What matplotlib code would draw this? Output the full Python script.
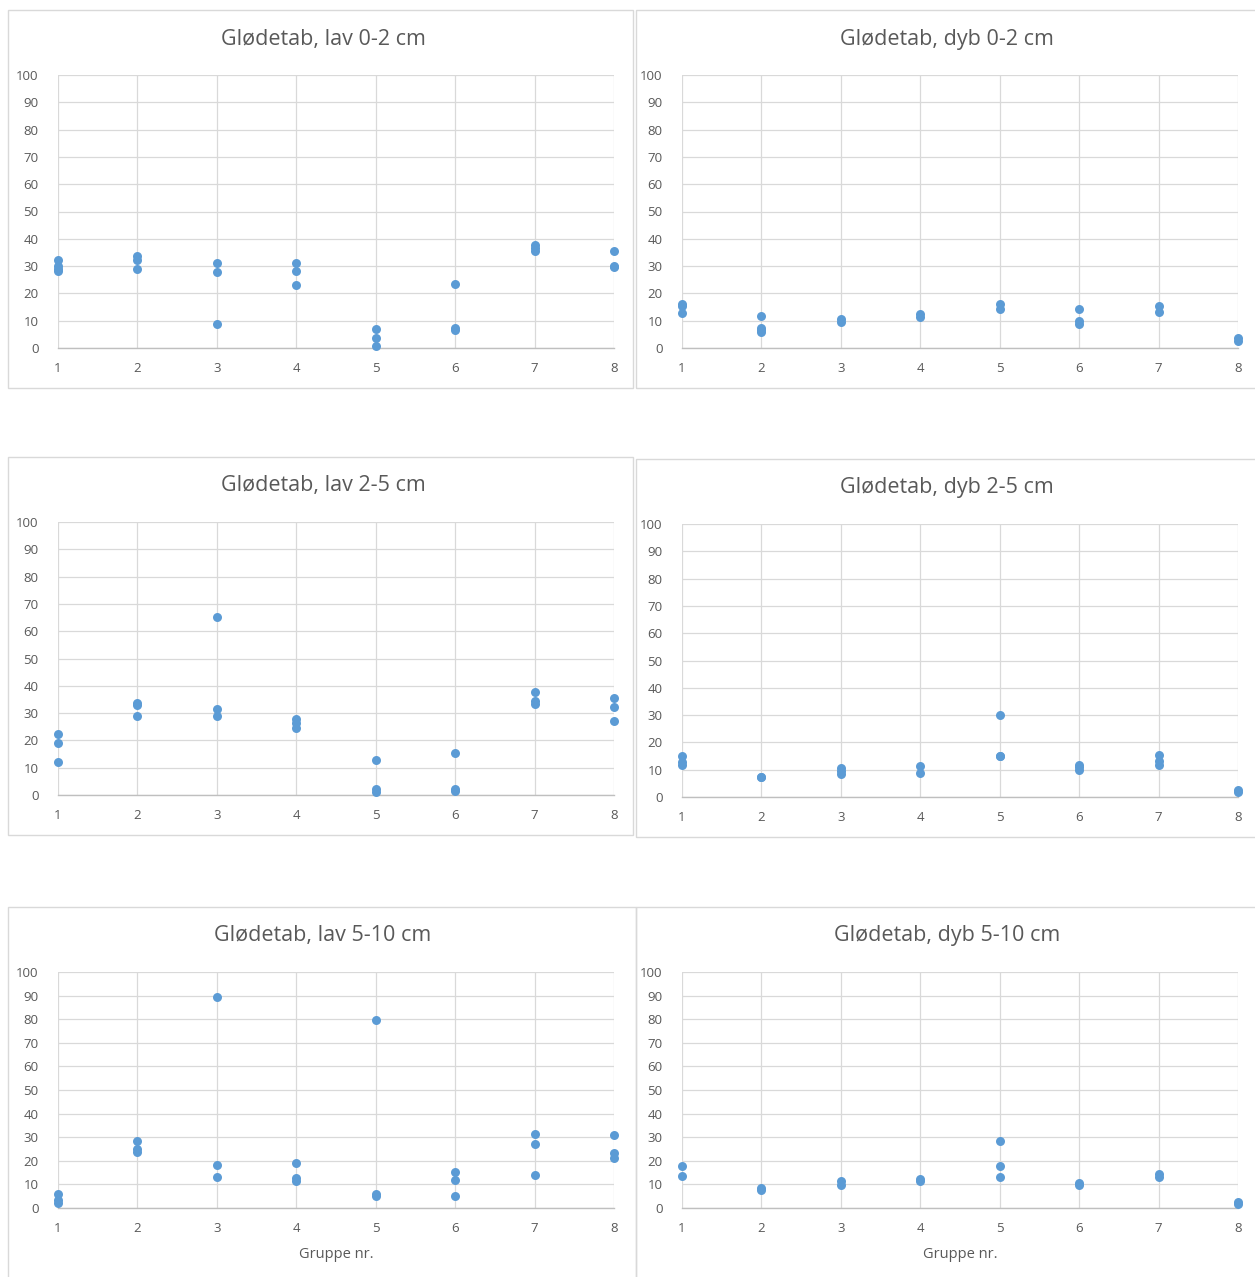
import matplotlib.pyplot as plt
from matplotlib.patches import Rectangle

plt.rcParams['font.family'] = ['Open Sans', 'DejaVu Sans']

groups = [1, 2, 3, 4, 5, 6, 7, 8]
yticks = [0, 10, 20, 30, 40, 50, 60, 70, 80, 90, 100]

# glødetab (%) per gruppe, lav / dyb, for hver dybde
lav_0_2 = [[32.1, 30.0, 29.0, 28.2], [33.7, 32.1, 29.0], [31.3, 27.8, 8.9], [31.3, 28.2, 22.9],
           [7.0, 3.7, 0.9], [23.6, 7.3, 6.5], [37.7, 36.7, 35.5], [35.5, 29.7, 29.9]]
dyb_0_2 = [[16.2, 15.3, 12.9], [11.8, 7.3, 6.7, 5.9], [10.6, 9.5], [12.6, 11.4],
           [16.2, 14.4], [14.4, 9.8, 8.8], [15.3, 13.2], [3.7, 2.4]]
lav_2_5 = [[22.4, 18.9, 12.0], [33.7, 32.8, 28.9], [65.2, 31.4, 28.9], [27.8, 26.3, 24.6],
           [12.7, 2.2, 1.2], [15.4, 2.2, 1.5], [37.9, 34.3, 33.4], [35.7, 32.3, 27.0]]
dyb_2_5 = [[14.9, 12.9, 11.9], [7.5, 7.2], [10.6, 9.7, 8.4], [11.5, 8.9],
           [30.2, 14.9, 15.2], [11.9, 10.9, 10.0], [15.3, 13.3, 11.6], [2.6, 1.8]]
lav_5_10 = [[6.1, 3.6, 2.3], [28.6, 25.0, 23.7], [89.6, 18.2, 13.2], [19.0, 12.8, 11.4],
            [79.7, 6.0, 5.0], [15.1, 11.8, 5.1], [31.4, 27.0, 14.1], [31.0, 23.2, 21.0]]
dyb_5_10 = [[17.8, 13.6], [8.5, 7.5], [11.4, 9.7], [12.2, 11.4],
            [28.4, 17.8, 13.2], [10.4, 9.7], [14.3, 13.2], [2.6, 1.6]]

titles = ['Glødetab, lav 0-2 cm', 'Glødetab, dyb 0-2 cm',
          'Glødetab, lav 2-5 cm', 'Glødetab, dyb 2-5 cm',
          'Glødetab, lav 5-10 cm', 'Glødetab, dyb 5-10 cm']
series = [lav_0_2, dyb_0_2, lav_2_5, dyb_2_5, lav_5_10, dyb_5_10]

W, H = 1255, 1277
fig = plt.figure(figsize=(W / 100, H / 100), dpi=100)

# chart frames (x0, y0, x1, y1) in pixels from top-left
frames = [(8, 10, 633, 388), (636, 10, 1262, 388),
          (8, 457, 633, 835), (636, 459, 1262, 837),
          (8, 907, 636, 1290), (636, 907, 1262, 1290)]
# plot areas: left, right, y of 0, y of 100
areas = [(58, 614, 348, 75), (682, 1238, 348, 75),
         (58, 614, 795, 522), (682, 1238, 797, 524),
         (58, 614, 1208, 972), (682, 1238, 1208, 972)]
title_x = [323, 947, 323, 947, 323, 947]
title_y = [40, 40, 486, 488, 936, 936]

grey = '#595959'
blue = '#5B9BD5'

for i in range(6):
    fx0, fy0, fx1, fy1 = frames[i]
    fig.patches.append(Rectangle((fx0 / W, 1 - fy1 / H), (fx1 - fx0) / W, (fy1 - fy0) / H,
                                 transform=fig.transFigure, fill=False,
                                 edgecolor='#d9d9d9', lw=1.0))
    l, r, b, t = areas[i]
    ax = fig.add_axes([l / W, 1 - b / H, (r - l) / W, (b - t) / H])
    xs, ys = [], []
    for g, vals in zip(groups, series[i]):
        xs += [g] * len(vals)
        ys += vals
    ax.scatter(xs, ys, s=42, color=blue, zorder=3, clip_on=False, linewidths=0)
    ax.set_xlim(1, 8)
    ax.set_ylim(0, 100)
    ax.set_xticks(groups)
    ax.set_yticks(yticks)
    ax.grid(True, color='#d9d9d9', lw=0.9)
    ax.set_axisbelow(True)
    for s in ['top', 'right', 'left']:
        ax.spines[s].set_visible(False)
    ax.spines['bottom'].set_color('#bfbfbf')
    ax.spines['bottom'].set_linewidth(1.0)
    ax.tick_params(length=0, labelsize=9.5, labelcolor=grey, pad=10)
    ax.tick_params(axis='y', pad=14)
    fig.text(title_x[i] / W, 1 - title_y[i] / H, titles[i], ha='center', va='center',
             fontsize=15.5, color=grey)
    if i >= 4:
        fig.text((l + r) / 2 / W, 1 - 1254 / H, 'Gruppe nr.', ha='center',
                 va='center', fontsize=10.5, color=grey)

fig.savefig('out.png', dpi=100, facecolor='white')
